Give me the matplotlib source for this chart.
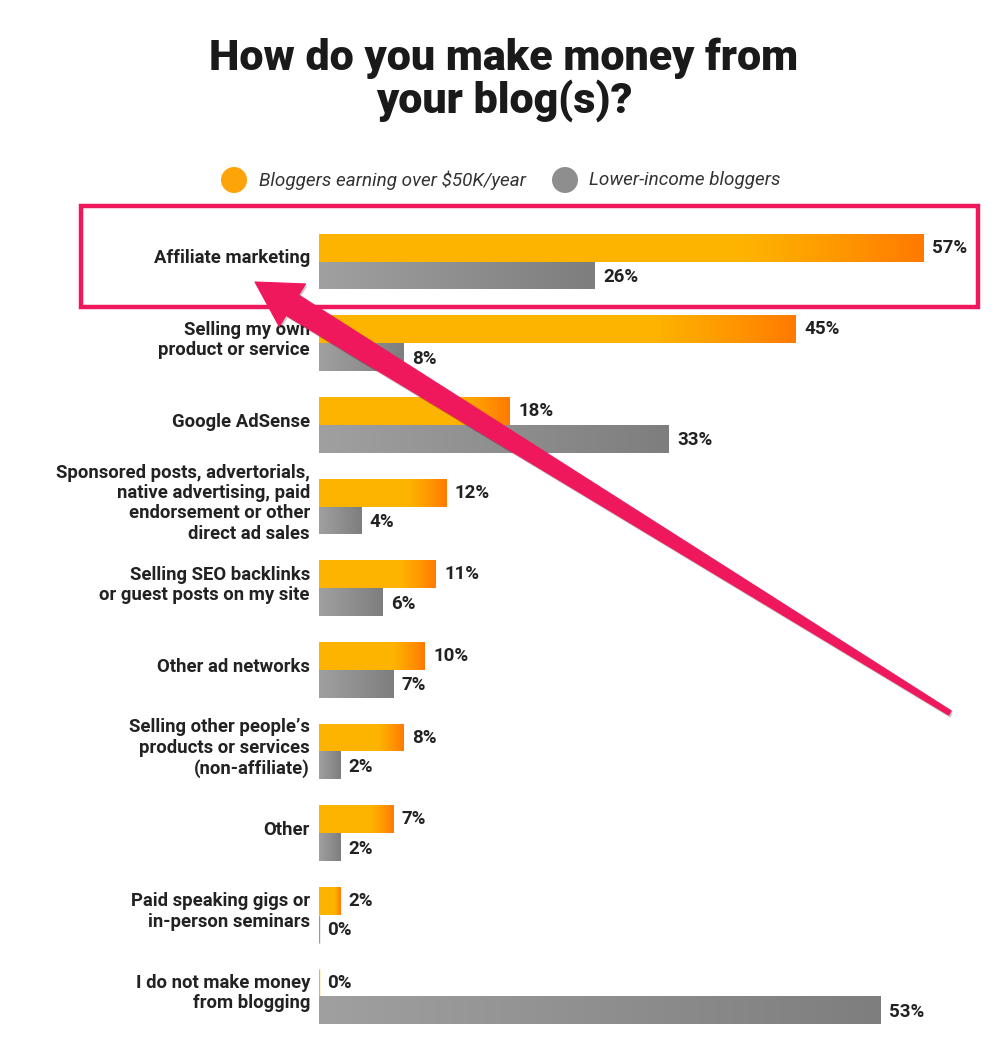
import numpy as np
import matplotlib
matplotlib.use("Agg")
import matplotlib.pyplot as plt
from matplotlib.colors import LinearSegmentedColormap
from matplotlib.patches import Rectangle, Polygon, Circle

plt.rcParams['font.family'] = ['Roboto', 'DejaVu Sans']

# ---------------- data ----------------
categories = [
    "Affiliate marketing",
    "Selling my own\nproduct or service",
    "Google AdSense",
    "Sponsored posts, advertorials,\nnative advertising, paid\nendorsement or other\ndirect ad sales",
    "Selling SEO backlinks\nor guest posts on my site",
    "Other ad networks",
    "Selling other people\u2019s\nproducts or services\n(non-affiliate)",
    "Other",
    "Paid speaking gigs or\nin-person seminars",
    "I do not make money\nfrom blogging",
]
high_income = [57, 45, 18, 12, 11, 10, 8, 7, 2, 0]
low_income = [26, 8, 33, 4, 6, 7, 2, 2, 0, 53]
series_names = ["Bloggers earning over $50K/year", "Lower-income bloggers"]
title = "How do you make money from\nyour blog(s)?"

# ---------------- figure ----------------
W, H = 1000, 1053
fig = plt.figure(figsize=(W / 100, H / 100), dpi=100)
fig.patch.set_facecolor("white")

px_per_pct = 10.6
x_left_px = 319
xmax = 64
top_px, bot_px = 220.7, 1037.3
ax = fig.add_axes([x_left_px / W, 1 - bot_px / H, xmax * px_per_pct / W, (bot_px - top_px) / H])
ax.set_facecolor("none")

n = len(categories)
y = np.arange(n)
off = 0.17
hgt = 0.34

orange_cmap = LinearSegmentedColormap.from_list(
    "og", [(0, "#FDB500"), (0.70, "#FDB400"), (0.85, "#FF9A00"), (1.0, "#FF7A00")])
grey_cmap = LinearSegmentedColormap.from_list("gr", ["#A0A0A0", "#7E7E7E"])

def draw_bars(vals, ypos, cmap, edge):
    bars = ax.barh(ypos, vals, height=hgt, color="none",
                   edgecolor=[edge if v == 0 else "none" for v in vals],
                   linewidth=1.0, zorder=2)
    for b, v in zip(bars, vals):
        if v <= 0:
            continue
        x0, y0 = b.get_x(), b.get_y()
        w, h = b.get_width(), b.get_height()
        grad = np.linspace(0, 1, 256).reshape(1, -1)
        im = ax.imshow(grad, cmap=cmap, extent=[x0, x0 + w, y0, y0 + h],
                       aspect="auto", interpolation="bilinear", zorder=1.5)
        im.set_clip_path(b)
    return bars

draw_bars(high_income, y - off, orange_cmap, "#FDB500")
draw_bars(low_income, y + off, grey_cmap, "#999999")

ax.set_xlim(0, xmax)
ax.set_ylim(n - 0.5, -0.5)
ax.axis("off")

# value labels
for i, (a, b) in enumerate(zip(high_income, low_income)):
    ax.text(a + 0.8, i - off, f"{a}%", va="center", ha="left",
            fontsize=13.5, fontweight="bold", color="#222222")
    ax.text(b + 0.8, i + off + 0.02, f"{b}%", va="center", ha="left",
            fontsize=13.5, fontweight="bold", color="#222222")

# category labels
for i, c in enumerate(categories):
    ax.text(-0.85, i - 0.04, c, va="center", ha="right", fontsize=13.3,
            fontweight="bold", color="#222222", linespacing=1.17)

# ---------------- overlay (title, legend, annotations) ----------------
ov = fig.add_axes([0, 0, 1, 1])
ov.set_xlim(0, W)
ov.set_ylim(H, 0)
ov.axis("off")
ov.set_facecolor("none")

ov.text(504, 80, title, ha="center", va="center", fontsize=31,
        fontweight="black", color="#1a1a1a", linespacing=1.0)

# legend
ov.add_patch(Circle((234, 180), 13, facecolor="#FCA40A", edgecolor="none"))
ov.text(259, 180, series_names[0], ha="left", va="center", fontsize=13.6,
        style="italic", color="#333333")
ov.add_patch(Circle((565, 180), 13, facecolor="#8E8E8E", edgecolor="none"))
ov.text(589, 180, series_names[1], ha="left", va="center", fontsize=13.6,
        style="italic", color="#333333")

pink = "#F0185C"
ov.add_patch(Rectangle((81, 206), 897, 101, facecolor="none",
                       edgecolor=pink, linewidth=3.2, zorder=5))

# tapered arrow
T = np.array([255.0, 282.0])
tail = np.array([950.0, 713.0])
u = (tail - T) / np.linalg.norm(tail - T)
nv = np.array([-u[1], u[0]])
B = T + 44 * u
pts = np.array([T, B + 25 * nv, B + 12 * nv, tail + 2.5 * nv, tail - 2.5 * nv,
                B - 12 * nv, B - 25 * nv])
ov.add_patch(Polygon(pts + np.array([1.5, 2.5]), closed=True,
                     facecolor="black", alpha=0.22, edgecolor="none", zorder=6))
ov.add_patch(Polygon(pts, closed=True, facecolor=pink, edgecolor=pink,
                     linewidth=0.8, joinstyle="round", zorder=7))

fig.savefig("out.png", dpi=100, facecolor="white")
